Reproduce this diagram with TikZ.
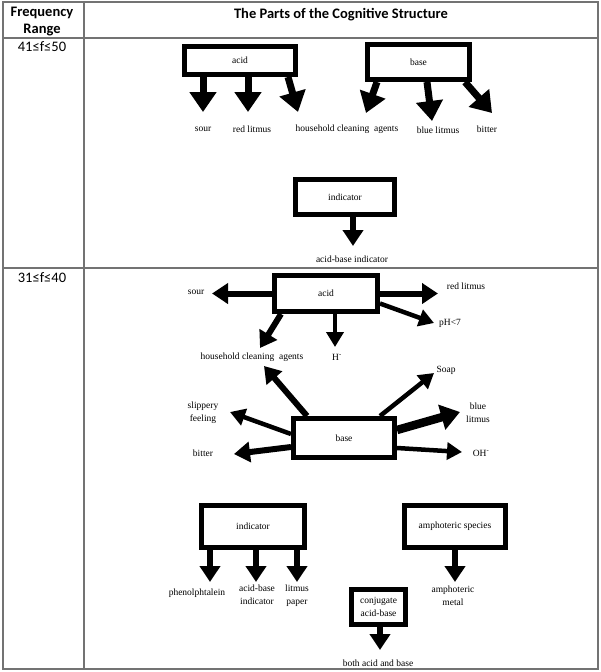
\documentclass[tikz,border=0pt]{standalone}
\usepackage{fontspec}
\setmainfont{Liberation Serif}
\newfontfamily\hdrfont{Carlito}
\usetikzlibrary{arrows.meta}
\definecolor{tabgray}{RGB}{115,115,115}
\newcommand\lblfont{\fontsize{9.5}{13}\selectfont}
\begin{document}
\begin{tikzpicture}[x=1pt,y=-1pt,
  box/.style={draw, line width=5pt, inner sep=0pt, font=\lblfont, align=center},
  lbl/.style={font=\lblfont, align=center, inner sep=1pt},
  hdr/.style={font=\hdrfont\bfseries\fontsize{14.5}{17}\selectfont, align=center, inner sep=0pt},
  rng/.style={font=\hdrfont\fontsize{14.5}{17}\selectfont, inner sep=0pt},
  bigarr/.style={line width=7pt, -{Triangle[length=20pt,width=26pt]}},
  arr/.style={line width=6pt, -{Triangle[length=16pt,width=20pt]}},
  thinarr/.style={line width=4.5pt, -{Triangle[length=15pt,width=17pt]}},
  thickarr/.style={line width=8.5pt, -{Triangle[length=19pt,width=25pt]}},
  grid/.style={draw=tabgray, line width=1.2pt}]
\useasboundingbox (0,0) rectangle (600,672);
% table
\draw[grid] (3,2) rectangle (598,669);
\draw[grid] (84,2) -- (84,669);
\draw[grid] (3,38) -- (598,38);
\draw[grid] (3,268) -- (598,268);
\node[hdr] (h1) at (42,21.5) {Frequency\\Range};
\node[hdr] (h2) at (341,15) {The Parts of the Cognitive Structure};
\node[rng] (r1) at (42,47) {41≤f≤50};
\node[rng] (r2) at (42,278) {31≤f≤40};

% ---------- row 1 ----------
\node[box, minimum width=111pt, minimum height=28pt] (acidA) at (240,60.5) {acid};
\node[box, minimum width=102pt, minimum height=35pt] (baseA) at (418.5,62) {base};
\node[box, minimum width=99pt, minimum height=35pt] (indA) at (345,197) {indicator};

\node[lbl] (a1) at (203,129) {sour};
\node[lbl] (a2) at (252,129) {red litmus};
\node[lbl] (a3) at (347,129) {household cleaning~ agents};
\node[lbl] (b2) at (438,130) {blue litmus};
\node[lbl] (b3) at (487,129) {bitter};
\node[lbl] (i1) at (352,259) {acid-base indicator};

\coordinate (ta1) at (203,112);
\coordinate (ta2) at (248,112);
\coordinate (ta3) at (298,112);
\coordinate (tb1) at (366,113);
\coordinate (tb2) at (432,121);
\coordinate (tb3) at (492,113);
\coordinate (ti1) at (353,246);
\draw[bigarr] ([xshift=-37pt]acidA.south) -- (ta1);
\draw[bigarr] ([xshift=8pt]acidA.south) -- (ta2);
\draw[bigarr] ([xshift=48pt]acidA.south) -- (ta3);
\draw[bigarr] ([xshift=-41.5pt]baseA.south) -- (tb1);
\draw[bigarr] ([xshift=8.5pt]baseA.south) -- (tb2);
\draw[bigarr] ([xshift=46.5pt]baseA.south) -- (tb3);
\draw[arr] ([xshift=8pt]indA.south) -- (ti1);

% ---------- row 2 ----------
\node[box, minimum width=103pt, minimum height=36pt] (acidB) at (326,293.5) {acid};
\node[box, minimum width=101pt, minimum height=39pt] (baseB) at (344,438) {base};
\node[box, minimum width=103pt, minimum height=42pt] (indB) at (253,526.5) {indicator};
\node[box, minimum width=101pt, minimum height=42pt] (ampB) at (455,526.5) {amphoteric species};
\node[box, minimum width=54pt, minimum height=35pt] (conjB) at (378.5,607) {conjugate\\acid-base};

\node[lbl] (c1) at (196,292) {sour};
\node[lbl] (c2) at (466,286) {red litmus};
\node[lbl] (c3) at (450,323) {pH<7};
\node[lbl] (c4) at (252,357) {household cleaning~ agents};
\node[lbl] (c5) at (337,357) {H\textsuperscript{-}};
\node[lbl] (d1) at (446,370) {Soap};
\node[lbl] (d2) at (203,413) {slippery\\feeling};
\node[lbl] (d3) at (203,453) {bitter};
\node[lbl] (d4) at (478,413) {blue\\litmus};
\node[lbl] (d5) at (481,453) {OH\textsuperscript{-}};
\node[lbl] (e1) at (197,593) {phenolphtalein};
\node[lbl] (e2) at (257,595) {acid-base\\indicator};
\node[lbl] (e3) at (297,596) {litmus\\paper};
\node[lbl] (f1) at (453,596) {amphoteric\\metal};
\node[lbl] (g1) at (378,663) {both acid and base};

\coordinate (tc1) at (212,293.5);
\coordinate (tc2) at (438,293.5);
\coordinate (tc3) at (434,323);
\coordinate (tc4) at (260,348);
\coordinate (tc5) at (335,347);
\coordinate (td0) at (264,366);
\coordinate (td1) at (434,373);
\coordinate (td2) at (230,412);
\coordinate (td3) at (234,454);
\coordinate (td4) at (460,412);
\coordinate (td5) at (462,452);
\coordinate (te1) at (210,582);
\coordinate (te2) at (256,582);
\coordinate (te3) at (297,582);
\coordinate (tf1) at (455,582);
\coordinate (tg1) at (380,650);

\draw[arr] (acidB.west) -- (tc1);
\draw[arr] (acidB.east) -- (tc2);
\draw[thinarr] ([yshift=-10pt]acidB.east) -- (tc3);
\draw[arr] ([xshift=-45pt]acidB.south) -- (tc4);
\draw[thinarr] ([xshift=9pt]acidB.south) -- (tc5);
\draw[arr] ([xshift=-37pt]baseB.north) -- (td0);
\draw[thinarr] ([xshift=36pt]baseB.north) -- (td1);
\draw[thinarr] ([yshift=4pt]baseB.west) -- (td2);
\draw[arr] ([yshift=-9pt]baseB.west) -- (td3);
\draw[thickarr] ([yshift=8pt]baseB.east) -- (td4);
\draw[thinarr] ([yshift=-10pt]baseB.east) -- (td5);
\draw[arr] ([xshift=-43pt]indB.south) -- (te1);
\draw[arr] ([xshift=3pt]indB.south) -- (te2);
\draw[arr] ([xshift=44pt]indB.south) -- (te3);
\draw[arr] (ampB.south) -- (tf1);
\draw[arr] ([xshift=1.5pt]conjB.south) -- (tg1);
\end{tikzpicture}
\end{document}
